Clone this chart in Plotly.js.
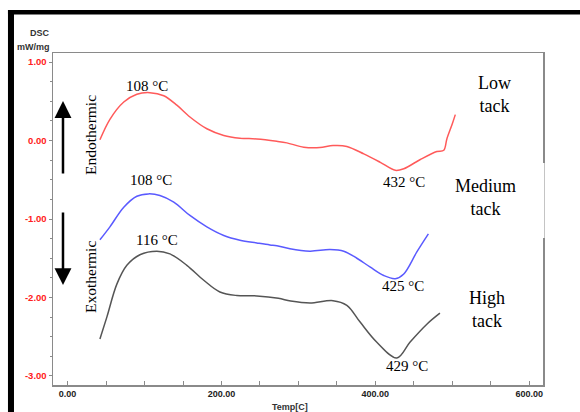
<!DOCTYPE html>
<html>
<head>
<meta charset="utf-8">
<script src="https://cdn.plot.ly/plotly-3.0.1.min.js"></script>
<style>html,body{margin:0;padding:0;background:#fff;}#chart{width:580px;height:412px;}</style>
</head>
<body>
<div id="chart"></div>
<script>
// Low tack (red)
const tempLow = [42,55,73,90,107,125,142,159,181,203,224,246,272,285,307,328,345,363,385,406,426,437,458,480,489,493,500,504];
const dscLow  = [0.01,0.27,0.49,0.59,0.61,0.57,0.45,0.30,0.15,0.065,0.03,0.02,-0.01,-0.03,-0.085,-0.09,-0.065,-0.075,-0.17,-0.275,-0.38,-0.36,-0.245,-0.14,-0.125,0.02,0.21,0.33];
// Medium tack (blue)
const tempMed = [42,55,73,90,105,120,138,159,181,203,224,246,263,272,289,315,341,359,376,393,411,426,437,454,469];
const dscMed  = [-1.265,-1.10,-0.85,-0.71,-0.68,-0.70,-0.785,-0.955,-1.10,-1.21,-1.27,-1.305,-1.33,-1.34,-1.38,-1.41,-1.39,-1.41,-1.50,-1.61,-1.72,-1.76,-1.70,-1.42,-1.19];
// High tack (black)
const tempHigh = [42,51,64,77,94,116,133,155,177,198,220,246,274,290,315,345,363,380,402,428,445,467,484];
const dscHigh  = [-2.53,-2.25,-1.83,-1.59,-1.455,-1.41,-1.445,-1.59,-1.78,-1.93,-1.975,-1.98,-2.01,-2.045,-2.07,-2.04,-2.10,-2.31,-2.57,-2.77,-2.57,-2.34,-2.20];

const xTickVals = [0,50,100,150,200,250,300,350,400,450,500,550,600];
const xTickText = ['0.00','','','','200.00','','','','400.00','','','','600.00'];
const yTickVals = [1,0,-1,-2,-3];
const yTickText = ['1.00','0.00','-1.00','-2.00','-3.00'];

// peak labels: [x, y, text]
const peakLabels = [
  [103, 0.694, '108 °C'],
  [436.8, -0.529, '432 °C'],
  [108.5, -0.503, '108 °C'],
  [116.3, -1.268, '116 °C'],
  [435.5, -1.854, '425 °C'],
  [441.3, -2.873, '429 °C']
];
const seriesLabels = [
  [554.5, 0.586, 'Low<br>tack'],
  [543.4, -0.732, 'Medium<br>tack'],
  [544.7, -2.153, 'High<br>tack']
];

const serif = 'Liberation Serif, Times New Roman, serif';
const sans = 'Liberation Sans, Arial, sans-serif';

const traces = [
  {x: tempLow, y: dscLow, mode: 'lines', line: {color: '#ff5a5a', width: 1.5, shape: 'spline', smoothing: 0.9}, hoverinfo: 'skip'},
  {x: tempMed, y: dscMed, mode: 'lines', line: {color: '#5a5aff', width: 1.5, shape: 'spline', smoothing: 1}, hoverinfo: 'skip'},
  {x: tempHigh, y: dscHigh, mode: 'lines', line: {color: '#555555', width: 1.5, shape: 'spline', smoothing: 1}, hoverinfo: 'skip'}
];

const annotations = [];
peakLabels.forEach(p => annotations.push({x: p[0], y: p[1], xref: 'x', yref: 'y', text: p[2], showarrow: false, font: {family: serif, size: 15, color: '#000'}}));
seriesLabels.forEach(p => annotations.push({x: p[0], y: p[1], xref: 'x', yref: 'y', text: p[2], showarrow: false, font: {family: serif, size: 18, color: '#000'}}));
annotations.push({x: 29.1, y: 0.07, xref: 'x', yref: 'y', text: 'Endothermic', textangle: -90, showarrow: false, font: {family: serif, size: 15.5, color: '#000'}});
annotations.push({x: 29.1, y: -1.739, xref: 'x', yref: 'y', text: 'Exothermic', textangle: -90, showarrow: false, font: {family: serif, size: 15.5, color: '#000'}});
annotations.push({x: -0.002, y: 1.060, xref: 'paper', yref: 'paper', xanchor: 'right', yanchor: 'middle', text: 'DSC', showarrow: false, font: {family: sans, size: 9, color: '#333', weight: 'bold'}});
annotations.push({x: -0.002, y: 1.019, xref: 'paper', yref: 'paper', xanchor: 'right', yanchor: 'middle', text: 'mW/mg', showarrow: false, font: {family: sans, size: 9, color: '#333', weight: 'bold'}});
annotations.push({x: 0.484, y: -0.066, xref: 'paper', yref: 'paper', xanchor: 'center', yanchor: 'middle', text: 'Temp[C]', showarrow: false, font: {family: sans, size: 9, color: '#333', weight: 'bold'}});
// arrows
annotations.push({x: 0.0204, y: 0.8554, xref: 'paper', yref: 'paper', ax: 0, ay: 74, text: '', showarrow: true, arrowhead: 2, arrowsize: 1.35, arrowwidth: 2.5, arrowcolor: '#000'});
annotations.push({x: 0.0204, y: 0.3012, xref: 'paper', yref: 'paper', ax: 0, ay: -74, text: '', showarrow: true, arrowhead: 2, arrowsize: 1.35, arrowwidth: 2.5, arrowcolor: '#000'});

const shapes = [
  // black page border (left and top)
  {type: 'rect', xref: 'paper', yref: 'paper', x0: -0.0919, x1: -0.0796, y0: -0.1, y1: 1.1295, fillcolor: '#000', line: {width: 0}},
  {type: 'rect', xref: 'paper', yref: 'paper', x0: -0.0919, x1: 1.08, y0: 1.116, y1: 1.1295, fillcolor: '#000', line: {width: 0}},
  // break in the right frame line
  {type: 'line', xref: 'paper', yref: 'paper', x0: 1, x1: 1, y0: 0.4428, y1: 0.6687, line: {color: '#fff', width: 3}}
];

const layout = {
  width: 580, height: 412,
  margin: {l: 53, r: 37, t: 53, b: 27},
  paper_bgcolor: '#fff', plot_bgcolor: '#fff',
  showlegend: false,
  xaxis: {
    range: [-19, 618], showgrid: false, zeroline: false,
    showline: true, linecolor: '#8a8a8a', linewidth: 1.5, mirror: true,
    tickmode: 'array', tickvals: xTickVals, ticktext: xTickText,
    ticks: 'inside', ticklen: 4, tickwidth: 1, tickcolor: '#8a8a8a',
    tickfont: {family: sans, size: 9, color: '#222', weight: 'bold'}
  },
  yaxis: {
    range: [-3.115, 1.115], showgrid: false, zeroline: false,
    showline: true, linecolor: '#8a8a8a', linewidth: 1.5, mirror: true,
    tickmode: 'array', tickvals: yTickVals, ticktext: yTickText,
    ticks: 'outside', ticklen: 3, tickwidth: 1, tickcolor: '#8a8a8a',
    tickfont: {family: sans, size: 9.5, color: '#ff2020', weight: 'bold'},
    minor: {dtick: 0.25, ticks: 'outside', ticklen: 2, tickcolor: '#8a8a8a'}
  },
  annotations: annotations,
  shapes: shapes
};

Plotly.newPlot('chart', traces, layout, {staticPlot: true});
</script>
</body>
</html>
